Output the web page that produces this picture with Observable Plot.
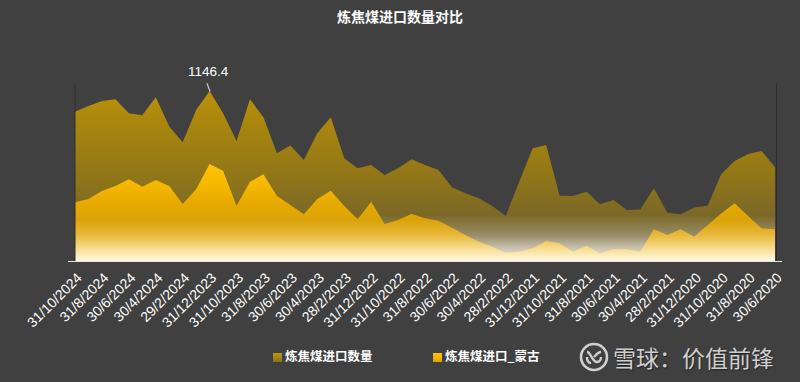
<!DOCTYPE html>
<html>
<head>
<meta charset="utf-8">
<script src="https://cdn.jsdelivr.net/npm/d3@7"></script>
<script src="https://cdn.jsdelivr.net/npm/@observablehq/plot@0.6"></script>
<style>
  html, body { margin: 0; padding: 0; background: #404040; }
  #wrap { position: relative; width: 800px; height: 382px; background: #404040; overflow: hidden; }
  #title { height: 32px; padding-top: 6px; line-height: 32px; text-align: center; color: #fff; font: bold 14px "Noto Sans CJK SC", sans-serif; }
  #legend { position: absolute; top: 346px; left: 0; width: 800px; height: 20px; font: bold 12.5px "Noto Sans CJK SC", sans-serif; color: #fff; }
  .item { position: absolute; top: 0; line-height: 20px; white-space: nowrap; }
  .sw { display: inline-block; width: 9px; height: 9px; margin-right: 3px; vertical-align: -1px; }
  #wm { position: absolute; left: 579px; top: 341px; height: 32px; display: flex; align-items: center; color: #cfcfcf; font: 23px "Noto Sans CJK SC", sans-serif; text-shadow: 1px 1px 1px #222; }
</style>
</head>
<body>
<div id="wrap">
  <div id="title">炼焦煤进口数量对比</div>
  <div id="chart"></div>
  <div id="legend">
    <div class="item" style="left:273px"><span class="sw" style="background:linear-gradient(#c09610,#8a7020)"></span>炼焦煤进口数量</div>
    <div class="item" style="left:433px"><span class="sw" style="background:linear-gradient(#ffc400,#e0a400)"></span>炼焦煤进口_蒙古</div>
  </div>
  <div id="wm">
    <svg width="30" height="30" viewBox="0 0 30 30" style="margin-right:4px">
      <circle cx="15" cy="15" r="13" fill="none" stroke="#cfcfcf" stroke-width="2.6"/>
      <path d="M8 10 C12 10 13 20 18 20 C21 20 22 17 22 15" fill="none" stroke="#cfcfcf" stroke-width="2.4"/>
      <path d="M22 10 C19 10 17 13 15 15 M8 15 C8 18 9 21 12 21" fill="none" stroke="#cfcfcf" stroke-width="2.4"/>
    </svg>
    <span>雪球：价值前锋</span>
  </div>
</div>
<script>
// Month-end dates, newest first (categories)
const months = [
  "31/10/2024","30/9/2024","31/8/2024","31/7/2024","30/6/2024","31/5/2024","30/4/2024","31/3/2024","29/2/2024","31/1/2024",
  "31/12/2023","30/11/2023","31/10/2023","30/9/2023","31/8/2023","31/7/2023","30/6/2023","31/5/2023","30/4/2023","31/3/2023","28/2/2023","31/1/2023",
  "31/12/2022","30/11/2022","31/10/2022","30/9/2022","31/8/2022","31/7/2022","30/6/2022","31/5/2022","30/4/2022","31/3/2022","28/2/2022","31/1/2022",
  "31/12/2021","30/11/2021","31/10/2021","30/9/2021","31/8/2021","31/7/2021","30/6/2021","31/5/2021","30/4/2021","31/3/2021","28/2/2021","31/1/2021",
  "31/12/2020","30/11/2020","31/10/2020","30/9/2020","31/8/2020","31/7/2020","30/6/2020"
];
// 炼焦煤进口数量
const totalImports = [
  1007,1045,1079,1090,996,982,1104,906,800,1018,
  1146.4,996,809,1090,969,726,778,681,861,969,692,625,
  647,580,625,686,647,614,497,456,423,371,303,535,
  760,782,440,438,467,382,411,344,348,490,326,315,
  360,373,584,674,722,742,632
];
// 炼焦煤进口_蒙古
const mongoliaImports = [
  396,418,472,506,551,501,546,506,384,483,
  654,609,373,535,584,438,378,315,418,474,371,281,
  400,249,276,317,288,272,225,175,130,96,56,63,
  86,135,119,63,103,52,79,79,63,214,175,214,
  164,243,321,389,303,220,214
];
const seriesNames = ["炼焦煤进口数量", "炼焦煤进口_蒙古"];

const data = months.map((m, i) => ({i, month: m, total: totalImports[i], mongolia: mongoliaImports[i]}));
const peakIdx = d3.maxIndex(totalImports);
const peak = [data[peakIdx]];
const tickIdx = d3.range(0, months.length, 2);

const svg = Plot.plot({
  width: 800,
  height: 300,
  marginLeft: 75,
  marginRight: 25,
  marginTop: 45,
  marginBottom: 77,
  style: {background: "transparent", color: "#fff", fontFamily: "'Liberation Sans', Arial, sans-serif", fontSize: "14px"},
  x: {domain: [0, months.length - 1], axis: null},
  y: {domain: [0, 1200], axis: null},
  marks: [
    Plot.areaY(data, {x: "i", y: "total", fill: "url(#gTotal)"}),
    Plot.areaY(data, {x: "i", y: "mongolia", fill: "url(#gMongo)"}),
    Plot.ruleX([0], {x: d => d, stroke: "#2e2e2e", strokeWidth: 1, dx: -0.5}),
    Plot.ruleX([months.length - 1], {x: d => d, stroke: "#2e2e2e", strokeWidth: 1, dx: 1}),
    Plot.ruleY([0], {stroke: "#e6e6e6", strokeWidth: 1.2, insetLeft: -7, insetRight: -7}),
    Plot.axisX(tickIdx, {
      label: null, tickSize: 0, tickRotate: -45, tickPadding: 14, dx: 4,
      tickFormat: i => months[i], fill: "#fff", fontSize: 14
    }),
    Plot.link(peak, {x1: d => d.i - 0.24, y1: d => d.total + 55, x2: d => d.i, y2: d => d.total, stroke: "#c8c8c8", strokeWidth: 1.2}),
    Plot.text(peak, {x: "i", y: "total", text: d => d3.format(".1f")(d.total), dy: -20, dx: -2, fill: "#fff", fontSize: 13.5, fontWeight: 500})
  ]
});

const ns = "http://www.w3.org/2000/svg";
const defs = document.createElementNS(ns, "defs");
defs.innerHTML = `
<linearGradient id="gTotal" x1="0" y1="0" x2="0" y2="1">
  <stop offset="0" stop-color="#bb920a"/>
  <stop offset="0.15" stop-color="#ad880d"/>
  <stop offset="0.5" stop-color="#917618"/>
  <stop offset="0.73" stop-color="#7b6827"/>
  <stop offset="0.85" stop-color="#9a8d6a"/>
  <stop offset="0.93" stop-color="#cdc6b4"/>
  <stop offset="1" stop-color="#ebe7de"/>
</linearGradient>
<linearGradient id="gMongo" x1="0" y1="0" x2="0" y2="1">
  <stop offset="0" stop-color="#ffc30a"/>
  <stop offset="0.22" stop-color="#f5b800"/>
  <stop offset="0.42" stop-color="#e6a900"/>
  <stop offset="0.58" stop-color="#dba30a"/>
  <stop offset="0.73" stop-color="#e8b83a"/>
  <stop offset="0.87" stop-color="#f7dc8c"/>
  <stop offset="0.97" stop-color="#fff3d0"/>
  <stop offset="1" stop-color="#fff8e6"/>
</linearGradient>`;
svg.prepend(defs);
document.getElementById("chart").appendChild(svg);
</script>
</body>
</html>
